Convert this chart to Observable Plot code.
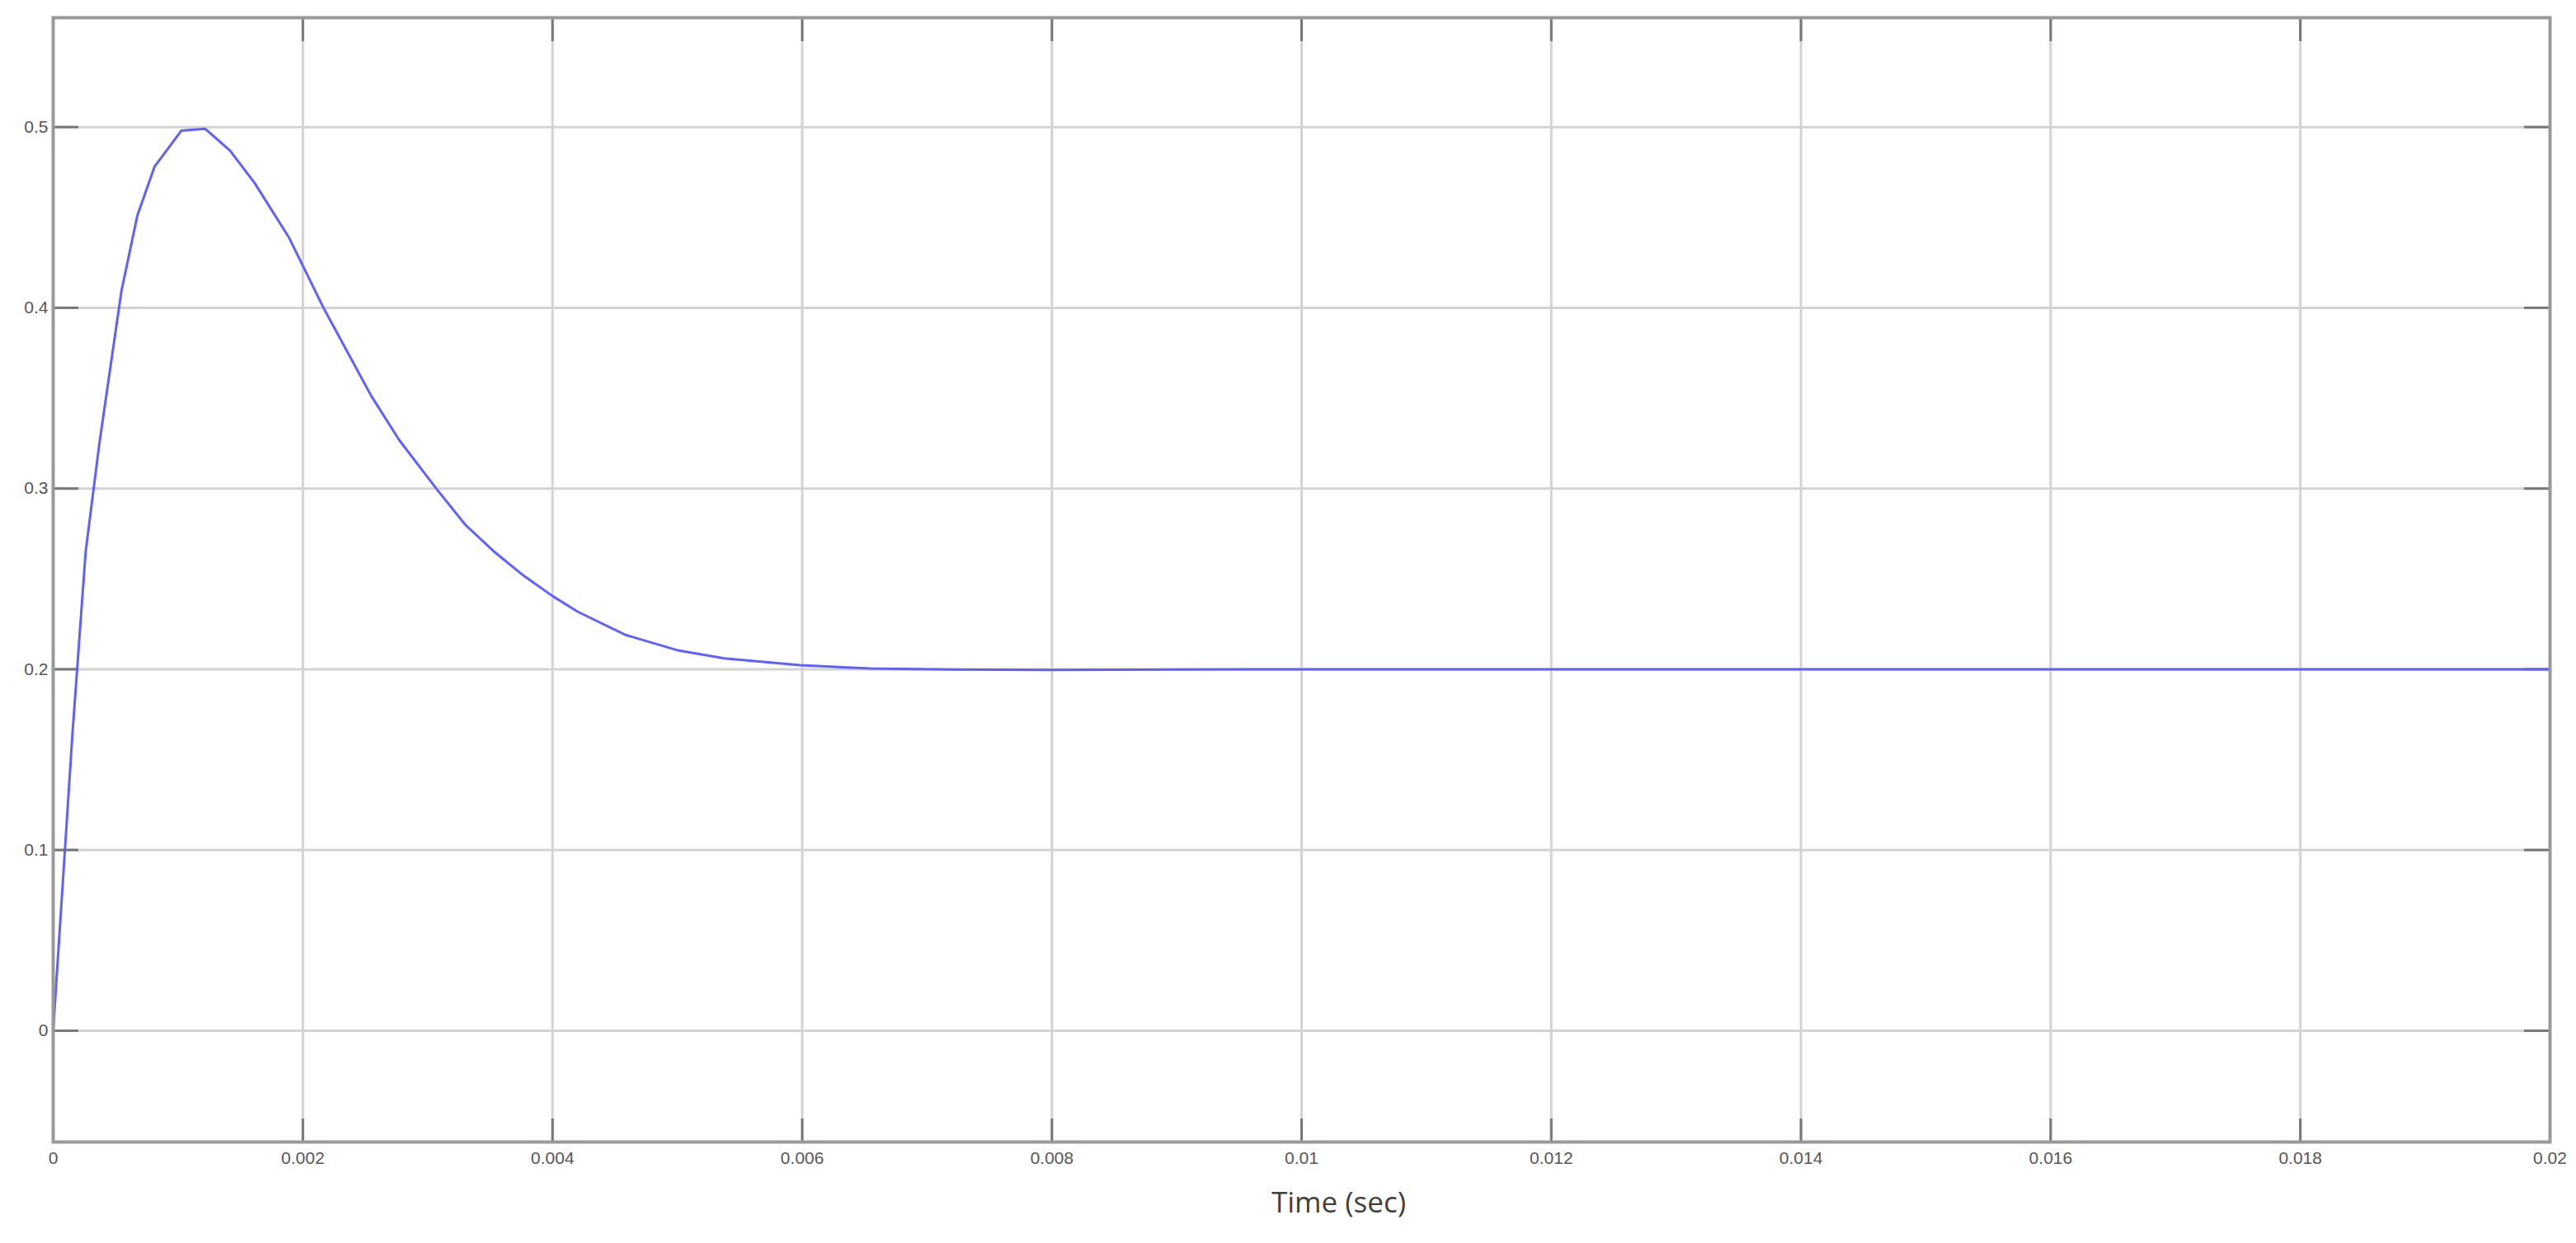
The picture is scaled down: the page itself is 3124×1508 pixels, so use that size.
<!DOCTYPE html>
<html><head><meta charset="utf-8">
<script src="https://cdn.jsdelivr.net/npm/d3@7"></script>
<script src="https://cdn.jsdelivr.net/npm/@observablehq/plot@0.6"></script>
<style>html,body{margin:0;padding:0;background:#fff;overflow:hidden}</style>
</head><body><div id="chart"></div>
<script>
const time = [0, 0.000154, 0.00026, 0.00037, 0.000546, 0.000674, 0.000811, 0.001026, 0.001218, 0.001416, 0.001614, 0.00189, 0.002165, 0.00233, 0.00255, 0.00277, 0.003068, 0.0033, 0.00354, 0.00377, 0.0040, 0.0042, 0.004584, 0.004995, 0.005377, 0.005985, 0.00655, 0.0072, 0.008, 0.009, 0.01, 0.012, 0.014, 0.016, 0.018, 0.02];
const current = [0, 0.164, 0.265, 0.325, 0.409, 0.451, 0.478, 0.498, 0.499, 0.487, 0.469, 0.4387, 0.400, 0.379, 0.351, 0.327, 0.300, 0.280, 0.2646, 0.2517, 0.2405, 0.2319, 0.219, 0.2106, 0.206, 0.2022, 0.2004, 0.1998, 0.1996, 0.1998, 0.2, 0.2, 0.2, 0.2, 0.2, 0.2];
const xTicks = [0, 0.002, 0.004, 0.006, 0.008, 0.01, 0.012, 0.014, 0.016, 0.018, 0.02];
const yTicks = [0, 0.1, 0.2, 0.3, 0.4, 0.5];
const xLabel = "Time (sec)";

const W = 3124, H = 1508, mL = 64, mR = 32, mT = 21, mB = 123;
const iw = W - mL - mR, ih = H - mT - mB;
const data = time.map((t, i) => ({t, v: current[i]}));
const fmt = d => String(+(+d).toFixed(3));

const chart = Plot.plot({
  width: W, height: H,
  marginLeft: mL, marginRight: mR, marginTop: mT, marginBottom: mB,
  x: {domain: [0, 0.02]},
  y: {domain: [-0.0616, 0.5605]},
  style: {fontFamily: "'Liberation Sans', Arial, sans-serif", fontSize: "21px", background: "#fff"},
  marks: [
    Plot.gridX(xTicks, {stroke: "#d3d3d3", strokeOpacity: 1, strokeWidth: 3}),
    Plot.gridY(yTicks, {stroke: "#d3d3d3", strokeOpacity: 1, strokeWidth: 3}),
    Plot.tickY(yTicks, {y: d => d, insetRight: iw - 31, stroke: "#777", strokeWidth: 3}),
    Plot.tickY(yTicks, {y: d => d, insetLeft: iw - 31, stroke: "#777", strokeWidth: 3}),
    Plot.tickX(xTicks, {x: d => d, insetTop: ih - 28, stroke: "#777", strokeWidth: 3}),
    Plot.tickX(xTicks, {x: d => d, insetBottom: ih - 29, stroke: "#777", strokeWidth: 3}),
    Plot.axisY(yTicks, {tickSize: 0, tickPadding: 6, tickFormat: fmt, color: "#555", fontSize: 21, label: null}),
    Plot.axisX(xTicks, {tickSize: 0, tickPadding: 12, tickFormat: fmt, color: "#555", fontSize: 21, label: null}),
    Plot.line(data, {x: "t", y: "v", stroke: "#6060ff", strokeWidth: 3}),
    Plot.frame({stroke: "#999", strokeWidth: 4}),
    Plot.text([xLabel], {text: d => d, frameAnchor: "bottom", dx: 45, dy: 85, fontSize: 35, fontFamily: "'Open Sans', sans-serif", fill: "#404040"})
  ]
});
document.getElementById("chart").appendChild(chart);
</script>
</body></html>
